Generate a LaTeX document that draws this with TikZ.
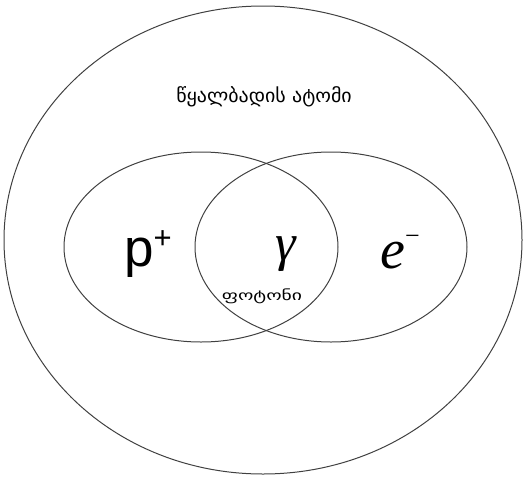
\documentclass[tikz,border=0pt]{standalone}
\usepackage{fontspec}
\setmainfont{Liberation Serif}
\newfontfamily\geofont{DejaVu Sans}
\newfontfamily\sansfont{Liberation Sans}

\begin{document}
\begin{tikzpicture}[x=1pt,y=-1pt]
    % Styles
    \tikzset{ring/.style={draw=black!75,line width=1pt},
             lbl/.style={inner sep=0pt}}
    \useasboundingbox (0,0) rectangle (525,477);

    % --- Outer ellipse: the atom ---
    \coordinate (atom) at (263,240);
    \draw[ring] (atom) ellipse [x radius=259, y radius=234];

    % --- Two overlapping ellipses ---
    \coordinate (left) at (201,247);
    \coordinate (right) at (331,247);
    \draw[ring] (left) ellipse [x radius=137, y radius=95];
    \draw[ring] (right) ellipse [x radius=136, y radius=95];

    % --- Labels ---
    \node[lbl] (title) at (264,97)
        {\geofont\fontsize{19}{22}\selectfont\scalebox{1.05}[1]{წყალბადის ატომი}};
    \node[lbl, anchor=base west] (proton) at (124,266)
        {\sansfont\fontsize{53}{60}\selectfont p\raisebox{18pt}{\fontsize{31}{33}\selectfont +}};
    \node[lbl, anchor=base] (gamma) at (286,260)
        {\fontsize{52}{60}\selectfont\itshape γ};
    \node[lbl, anchor=base west] (electron) at (380,268)
        {\fontsize{56}{60}\selectfont\itshape e\raisebox{24pt}{\fontsize{26}{28}\selectfont\upshape −}};
    \node[lbl] (photon) at (262,296)
        {\geofont\fontsize{14}{16}\selectfont\scalebox{1.4}[1]{ფოტონი}};
\end{tikzpicture}
\end{document}
